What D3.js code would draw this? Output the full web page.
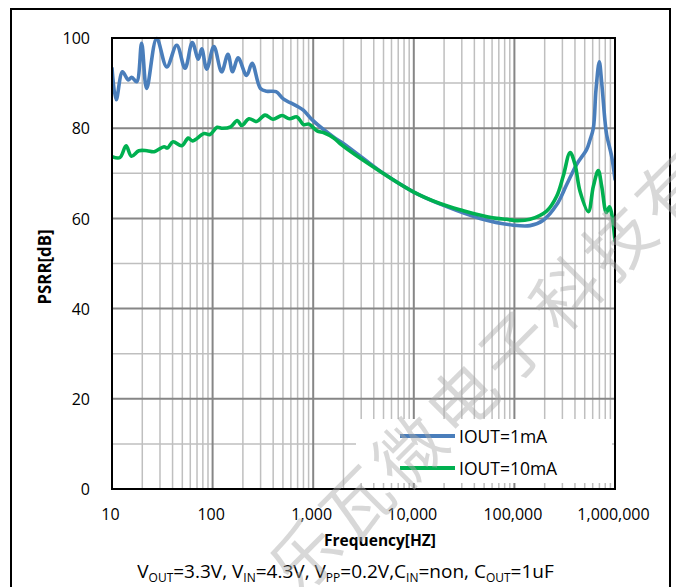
<!DOCTYPE html>
<html>
<head>
<meta charset="utf-8">
<script src="https://cdn.jsdelivr.net/npm/d3@7"></script>
<style>
html,body{margin:0;padding:0;background:#fff;}
svg{display:block;}
</style>
</head>
<body>
<svg id="chart" width="676" height="587"></svg>
<script>
// ---------- DATA ----------
const seriesNames = ["IOUT=1mA", "IOUT=10mA"];
const seriesColors = ["#4a7ebb", "#00b050"];

const freq1mA = [10, 11, 12.7, 14.5, 15.7, 17.6, 19.7, 22.1, 27.8, 35.0, 44.0, 53.2, 62.8, 72.1, 78.0, 87.4,
  103, 123, 142, 158, 179, 218, 247, 299, 345, 427, 505, 675, 798, 984, 1650, 1991, 3148, 4977, 9886,
  21230, 45500, 97500, 142900, 193700, 263000, 331000, 416000, 523000, 564000, 609000, 647000, 698000,
  738000, 796000, 827000, 927000, 1000000];
const psrr1mA = [93.3, 86.3, 92.5, 90.7, 91.3, 90.3, 98.8, 88.8, 99.9, 93.6, 98.4, 93.3, 99.0, 95.3, 97.6, 93.1,
  98.1, 92.5, 96.4, 92.5, 95.6, 91.7, 94.4, 88.8, 88.2, 88.1, 86.5, 85.0, 84.0, 81.8, 77.8, 76.6, 73.3, 70.0, 65.9,
  62.6, 60.0, 58.5, 58.4, 59.6, 63.0, 67.5, 72.0, 75.3, 77.4, 80.0, 88.5, 94.7,
  90.0, 81.5, 78.5, 73.7, 68.7];

const freq10mA = [10, 12.0, 13.8, 15.6, 18.5, 22.3, 26.2, 32.9, 35.6, 40.4, 49.3, 57.3, 63.1, 82.2, 94.2,
  111, 123, 151, 176, 195, 230, 274, 332, 398, 490, 581, 690, 801, 908, 1091, 1280, 1585, 1846, 3148, 9886,
  18200, 31000, 39000, 66700, 83800, 105000, 143000, 209000, 263000, 306000, 358000, 400000, 449000,
  543000, 609000, 682000, 738000, 820000, 881000, 927000, 1000000];
const psrr10mA = [73.7, 73.5, 76.1, 73.8, 75.0, 75.0, 74.8, 75.9, 75.6, 77.0, 76.1, 77.8, 77.2, 78.8, 78.6,
  80.2, 80.0, 80.3, 81.7, 80.6, 82.1, 81.5, 82.9, 82.0, 82.8, 82.1, 82.5, 80.8, 80.9, 79.4, 79.0, 77.9, 76.6, 72.9, 65.9,
  63.3, 61.7, 61.1, 60.0, 59.8, 59.5, 59.8, 61.6, 64.9, 69.4, 74.6, 72.0, 66.0,
  61.5, 67.1, 70.6, 67.1, 61.3, 62.6, 61.0, 55.0];

const xTickValues = [10, 100, 1000, 10000, 100000, 1000000];
const yTickValues = [0, 20, 40, 60, 80, 100];
const yMinorValues = [10, 30, 50, 70, 90];

const xTitle = "Frequency[HZ]";
const yTitle = "PSRR[dB]";
const watermarkText = "乐瓦微电子科技有";

// ---------- LAYOUT ----------
const svg = d3.select("#chart");
const plot = {left: 112, right: 615, top: 38, bottom: 489};

const x = d3.scaleLog().domain([10, 1e6]).range([plot.left, plot.right]);
const y = d3.scaleLinear().domain([0, 100]).range([plot.bottom, plot.top]);

const FONT = "'Open Sans', 'Liberation Sans', sans-serif";

// outer frame
svg.append("path")
  .attr("d", "M11,600 L11,9 L670,9 L670,600")
  .attr("fill", "none").attr("stroke", "#000").attr("stroke-width", 2);

// minor x grid
const minorX = [];
for (let dec = 10; dec < 1e6; dec *= 10) for (let k = 2; k <= 9; k++) minorX.push(dec * k);

const grid = svg.append("g");
grid.selectAll(".mx").data(minorX).enter().append("line")
  .attr("x1", d => x(d)).attr("x2", d => x(d))
  .attr("y1", plot.top).attr("y2", plot.bottom)
  .attr("stroke", "#bfbfbf").attr("stroke-width", 1.5);
grid.selectAll(".my").data(yMinorValues).enter().append("line")
  .attr("x1", plot.left).attr("x2", plot.right)
  .attr("y1", d => y(d)).attr("y2", d => y(d))
  .attr("stroke", "#bfbfbf").attr("stroke-width", 1.5);
grid.selectAll(".Mx").data(xTickValues).enter().append("line")
  .attr("x1", d => x(d)).attr("x2", d => x(d))
  .attr("y1", plot.top).attr("y2", plot.bottom)
  .attr("stroke", "#868686").attr("stroke-width", 2);
grid.selectAll(".My").data(yTickValues).enter().append("line")
  .attr("x1", plot.left).attr("x2", plot.right)
  .attr("y1", d => y(d)).attr("y2", d => y(d))
  .attr("stroke", "#868686").attr("stroke-width", 2);

// series
const line = d3.line()
  .x(d => x(d[0])).y(d => y(d[1]))
  .curve(d3.curveCatmullRom.alpha(0.5));

const seriesData = [
  d3.zip(freq1mA, psrr1mA),
  d3.zip(freq10mA, psrr10mA)
];

svg.append("clipPath").attr("id", "pclip").append("rect")
  .attr("x", plot.left).attr("y", plot.top - 5)
  .attr("width", plot.right - plot.left).attr("height", plot.bottom - plot.top + 5);

svg.append("g").attr("clip-path", "url(#pclip)")
  .selectAll("path").data(seriesData).enter().append("path")
  .attr("d", line)
  .attr("fill", "none")
  .attr("stroke", (d, i) => seriesColors[i])
  .attr("stroke-width", 3.6)
  .attr("stroke-linejoin", "round").attr("stroke-linecap", "round");

// legend
const legend = svg.append("g");
legend.append("rect").attr("x", 356).attr("y", 419).attr("width", 256).attr("height", 64).attr("fill", "#fff");
seriesNames.forEach((name, i) => {
  const ly = 436 + i * 32;
  legend.append("line").attr("x1", 400).attr("x2", 455).attr("y1", ly).attr("y2", ly)
    .attr("stroke", seriesColors[i]).attr("stroke-width", 4);
  legend.append("text").attr("x", 459).attr("y", ly + 6.5)
    .attr("font-family", FONT).attr("font-size", 17.5).attr("fill", "#000").text(name);
});

// plot border
svg.append("rect").attr("x", plot.left).attr("y", plot.top)
  .attr("width", plot.right - plot.left).attr("height", plot.bottom - plot.top)
  .attr("fill", "none").attr("stroke", "#000").attr("stroke-width", 2);

// axes
const xAxis = d3.axisBottom(x).tickValues(xTickValues).tickFormat(d3.format(",")).tickSize(0).tickPadding(0);
const gx = svg.append("g").attr("transform", `translate(-2,${plot.bottom})`).call(xAxis);
gx.select(".domain").remove();
gx.selectAll("text").attr("dy", null).attr("y", 31)
  .attr("font-family", FONT).attr("font-size", 16).attr("fill", "#000");

const yAxis = d3.axisLeft(y).tickValues(yTickValues).tickSize(0).tickPadding(0);
const gy = svg.append("g").attr("transform", `translate(${plot.left},0)`).call(yAxis);
gy.select(".domain").remove();
gy.selectAll("text").attr("x", -22).attr("dy", "0.35em")
  .attr("font-family", FONT).attr("font-size", 16).attr("fill", "#000");

// axis titles
svg.append("text").attr("x", 380).attr("y", 546)
  .attr("text-anchor", "middle").attr("font-family", FONT).attr("font-weight", "bold")
  .attr("font-size", 15.5).text(xTitle);
svg.append("text").attr("transform", `translate(51,267) rotate(-90)`)
  .attr("text-anchor", "middle").attr("font-family", FONT).attr("font-weight", "bold")
  .attr("font-size", 17).attr("textLength", 75).attr("lengthAdjust", "spacingAndGlyphs").text(yTitle);

// caption with subscripts
const cap = svg.append("text").attr("x", 345.5).attr("y", 578).attr("text-anchor", "middle")
  .attr("font-family", FONT).attr("font-size", 19).attr("fill", "#000");
const capParts = [["V", ""], ["OUT", "sub"], ["=3.3V, V", ""], ["IN", "sub"], ["=4.3V, V", ""], ["PP", "sub"],
  ["=0.2V,C", ""], ["IN", "sub"], ["=non, C", ""], ["OUT", "sub"], ["=1uF", ""]];
capParts.forEach(([t, k], i) => {
  const ts = cap.append("tspan").text(t);
  if (k === "sub") ts.attr("font-size", 12).attr("dy", 4);
  else ts.attr("dy", i > 0 ? -4 : 0);
});

// watermark
svg.append("text")
  .attr("transform", "translate(302,553) rotate(-45)")
  .attr("font-family", "'Noto Sans CJK SC'")
  .attr("font-size", 68).attr("letter-spacing", 6)
  .attr("dominant-baseline", "central")
  .attr("x", -34)
  .attr("fill", "#a8a8a8").attr("fill-opacity", 0.45)
  .text(watermarkText);
</script>
</body>
</html>
